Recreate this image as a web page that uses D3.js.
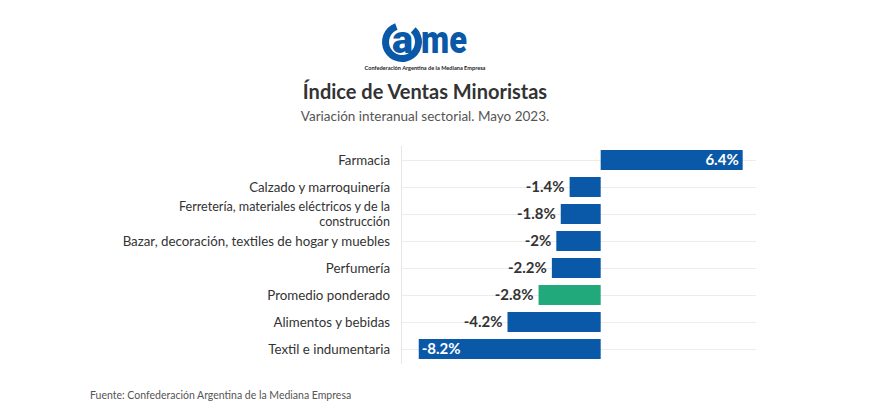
<!DOCTYPE html>
<html><head><meta charset="utf-8">
<script src="https://cdn.jsdelivr.net/npm/d3@7"></script>
<style>
body{margin:0;background:#fff;}
svg{font-family:Lato,"Noto Sans",sans-serif;}
</style></head>
<body><svg id="c" width="884" height="418"></svg>
<script>
const categories = ["Farmacia","Calzado y marroquinería","Ferretería, materiales eléctricos y de la construcción","Bazar, decoración, textiles de hogar y muebles","Perfumería","Promedio ponderado","Alimentos y bebidas","Textil e indumentaria"];
const values = [6.4,-1.4,-1.8,-2,-2.2,-2.8,-4.2,-8.2];
const labels = ["6.4%","-1.4%","-1.8%","-2%","-2.2%","-2.8%","-4.2%","-8.2%"];
const highlight = ["Promedio ponderado"];
const title = "Índice de Ventas Minoristas";
const subtitle = "Variación interanual sectorial. Mayo 2023.";
const source = "Fuente: Confederación Argentina de la Mediana Empresa";

const svg = d3.select("#c");
const blue = "#0a58a8", green = "#22a97b";

// logo
const logo = svg.append("g").attr("transform","translate(402,42)");
logo.append("path").attr("d", d3.arc().innerRadius(13).outerRadius(20).startAngle(0.75).endAngle(2*Math.PI-0.35)()).attr("fill",blue);
logo.append("text").attr("x",-10).attr("y",11).attr("font-size",38).attr("font-weight",900).attr("fill",blue).attr("font-family","Roboto,sans-serif").attr("textLength",21).attr("lengthAdjust","spacingAndGlyphs").text("a");
logo.append("text").attr("x",19).attr("y",11).attr("font-size",38).attr("font-weight",900).attr("fill",blue).attr("font-family","Roboto,sans-serif").attr("textLength",46).attr("lengthAdjust","spacingAndGlyphs").text("me");
svg.append("text").attr("x",425).attr("y",70).attr("text-anchor","middle").attr("font-size",5.6).attr("fill","#222").attr("font-weight",700).text("Confederación Argentina de la Mediana Empresa");

svg.append("text").attr("x",425).attr("y",99).attr("text-anchor","middle").attr("font-size",20).attr("font-weight",700).attr("fill","#333").text(title);
svg.append("text").attr("x",425).attr("y",121).attr("text-anchor","middle").attr("font-size",13.5).attr("fill","#555").text(subtitle);
svg.append("text").attr("x",90).attr("y",399).attr("font-size",10.5).attr("fill","#555").text(source);

const x = d3.scaleLinear().domain([-9,7]).range([401,756]);
const y = d3.scaleBand().domain(categories).range([146.5,362.5]).paddingInner(0.26).paddingOuter(0.13);

// gridlines
const g = svg.append("g");
g.selectAll("line.grid").data(categories).join("line")
 .attr("x1",401).attr("x2",756)
 .attr("y1",d=>y(d)+y.bandwidth()/2+0.5).attr("y2",d=>y(d)+y.bandwidth()/2+0.5)
 .attr("stroke","#ececec").attr("stroke-width",1);
g.append("line").attr("x1",401.5).attr("x2",401.5).attr("y1",146).attr("y2",364).attr("stroke","#e6e6e6");

// bars
g.selectAll("rect").data(categories).join("rect")
 .attr("x",(d,i)=>x(Math.min(0,values[i])))
 .attr("width",(d,i)=>Math.abs(x(values[i])-x(0)))
 .attr("y",d=>y(d)).attr("height",y.bandwidth())
 .attr("fill",d=>highlight.includes(d)?green:blue);

// value labels
g.selectAll("text.v").data(categories).join("text")
 .attr("class","v")
 .each(function(d,i){
   const v=values[i], t=d3.select(this);
   const w=Math.abs(x(v)-x(0));
   const inside = w>100;
   let px, anchor, col;
   if(v>=0){ px = inside? x(v)-4 : x(v)+5; anchor = inside?"end":"start"; col = inside?"#fff":"#333"; }
   else { px = inside? x(v)+3 : x(v)-5; anchor = inside?"start":"end"; col = inside?"#fff":"#333"; }
   t.attr("x",px).attr("y",y(d)+y.bandwidth()/2).attr("dy","0.36em").attr("text-anchor",anchor).attr("fill",col).attr("font-weight",700).attr("font-size",15).text(labels[i]);
 });

// category labels
const yl = svg.append("g");
categories.forEach(c=>{
  const cy = y(c)+y.bandwidth()/2;
  if(c.length>48){
    const l1 = "Ferretería, materiales eléctricos y de la", l2 = c.slice(l1.length+1);
    [l1,l2].forEach((s,k)=>{
      yl.append("text").attr("x",390).attr("text-anchor","end").attr("font-size",12.6).attr("fill","#333")
        .attr("y",cy-7.5+k*15).attr("dy","0.35em").text(s);
    });
  } else {
    yl.append("text").attr("x",390).attr("text-anchor","end").attr("font-size",13.3).attr("fill","#333")
      .attr("y",cy).attr("dy","0.35em").text(c);
  }
});
</script></body></html>
